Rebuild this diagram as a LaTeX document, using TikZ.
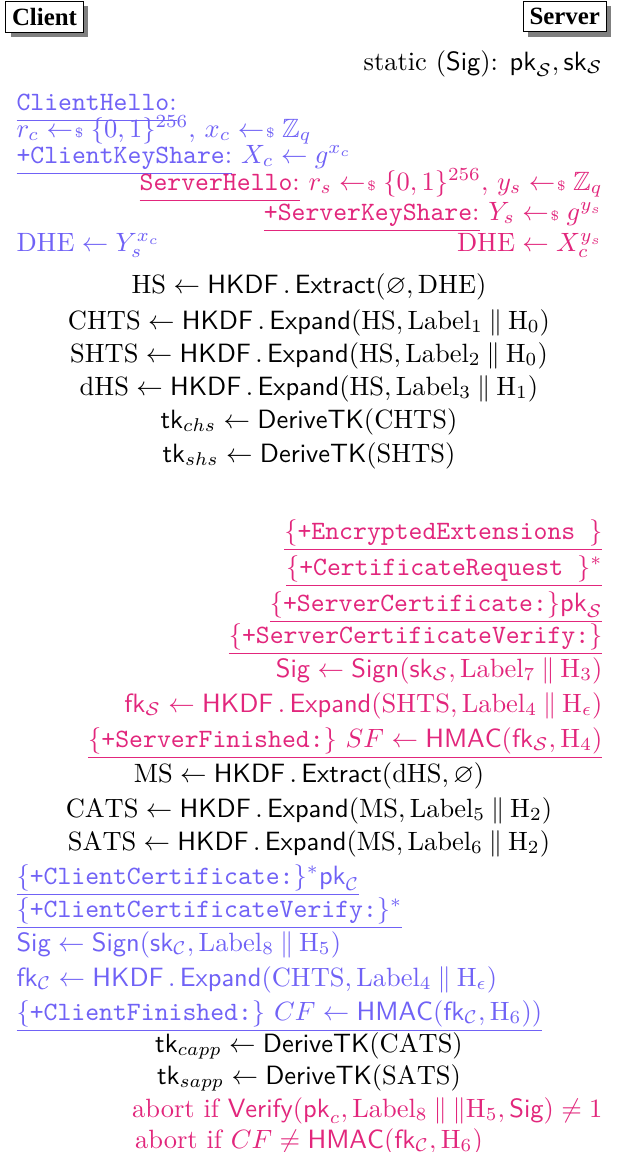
\documentclass[tikz,border=0pt]{standalone}
\usepackage{amsmath,amssymb}
\usepackage{fontspec}
\newfontfamily\partyfont{Liberation Serif}
\usetikzlibrary{shadows}
\definecolor{cblue}{RGB}{112,98,246}
\definecolor{cpink}{RGB}{226,38,124}
\newcommand{\smp}{\mathrel{\leftarrow\mkern-4mu{\scriptscriptstyle\$}}}
\newcommand{\ulw}[1]{\underline{\vphantom{\{}#1}}
\newcommand{\hk}{\mathsf{HKDF}\,.\,}
\newcommand{\lbl}[1]{\mathrm{Label}_{#1}}
\newcommand{\cat}{\mathbin{\|}}
\begin{document}
\begin{tikzpicture}[x=0.378pt,y=-0.378pt,
  every node/.style={inner sep=0pt},
  lft/.style={anchor=base west},
  rgt/.style={anchor=base east},
  ctr/.style={anchor=base},
  cli/.style={text=cblue},
  srv/.style={text=cpink},
  party/.style={draw=black, fill=white, inner xsep=2.4pt, inner ysep=2.6pt,
    font=\partyfont\bfseries\fontsize{9.4}{10}\selectfont, line width=0.5pt,
    drop shadow={shadow xshift=1.9pt, shadow yshift=-1.9pt, fill=black!50, opacity=1}}]
\fill[white] (0,0) rectangle (618,1152);
\useasboundingbox (0,0) rectangle (618,1152);
% parties
\node[party, anchor=north west] (client) at (5,0.5) {Client};
\node[party, anchor=north east] (server) at (607,0.5) {Server};
\node[rgt] (static) at (603,70) {static $(\mathsf{Sig})$: $\mathsf{pk}_{\mathcal{S}},\mathsf{sk}_{\mathcal{S}}$};
% hello
\node[lft,cli] (ch) at (16,110) {$\ulw{\texttt{ClientHello}{:}}$};
\node[lft,cli] (rc) at (16,137) {$r_c \smp \{0,1\}^{256},\, x_c \smp \mathbb{Z}_q$};
\node[lft,cli] (cks) at (16,163) {$\ulw{\texttt{+ClientKeyShare}{:}}\ X_c \leftarrow g^{x_c}$};
\node[rgt,srv] (sh) at (603,190) {$\ulw{\texttt{ServerHello}{:}}\ r_s \smp \{0,1\}^{256},\, y_s \smp \mathbb{Z}_q$};
\node[rgt,srv] (sks) at (603,220) {$\ulw{\texttt{+ServerKeyShare}{:}}\ Y_s \smp g^{y_s}$};
\node[lft,cli] (dhec) at (16,251) {$\mathrm{DHE} \leftarrow Y_s^{x_c}$};
\node[rgt,srv] (dhes) at (603,251) {$\mathrm{DHE} \leftarrow X_c^{y_s}$};
% handshake secrets
\node[ctr] (hs) at (309,293) {$\mathrm{HS} \leftarrow \hk\mathsf{Extract}(\varnothing, \mathrm{DHE})$};
\node[ctr] (chts) at (309,329) {$\mathrm{CHTS} \leftarrow \hk\mathsf{Expand}(\mathrm{HS}, \lbl{1} \cat \mathrm{H}_0)$};
\node[ctr] (shts) at (309,362) {$\mathrm{SHTS} \leftarrow \hk\mathsf{Expand}(\mathrm{HS}, \lbl{2} \cat \mathrm{H}_0)$};
\node[ctr] (dhs) at (309,395) {$\mathrm{dHS} \leftarrow \hk\mathsf{Expand}(\mathrm{HS}, \lbl{3} \cat \mathrm{H}_1)$};
\node[ctr] (tkchs) at (309,428) {$\mathsf{tk}_{chs} \leftarrow \mathsf{DeriveTK}(\mathrm{CHTS})$};
\node[ctr] (tkshs) at (309,462) {$\mathsf{tk}_{shs} \leftarrow \mathsf{DeriveTK}(\mathrm{SHTS})$};
% server flight
\node[rgt,srv] (ee) at (603,539) {$\underline{\{\texttt{+EncryptedExtensions\ }\}}$};
\node[rgt,srv] (cr) at (603,575) {$\underline{\{\texttt{+CertificateRequest\ }\}^*}$};
\node[rgt,srv] (sc) at (603,611) {$\underline{\{\texttt{+ServerCertificate:}\}\mathsf{pk}_{\mathcal{S}}}$};
\node[rgt,srv] (scv) at (603,643) {$\underline{\{\texttt{+ServerCertificateVerify:}\}}$};
\node[rgt,srv] (sigs) at (603,677) {$\mathsf{Sig} \leftarrow \mathsf{Sign}(\mathsf{sk}_{\mathcal{S}}, \lbl{7} \cat \mathrm{H}_3)$};
\node[rgt,srv] (fks) at (603,712) {$\mathsf{fk}_{\mathcal{S}} \leftarrow \hk\mathsf{Expand}(\mathrm{SHTS}, \lbl{4} \cat \mathrm{H}_\epsilon)$};
\node[rgt,srv] (sf) at (603,747) {$\underline{\{\texttt{+ServerFinished:}\}\ SF \leftarrow \mathsf{HMAC}(\mathsf{fk}_{\mathcal{S}}, \mathrm{H}_4)}$};
% master secrets
\node[ctr] (ms) at (309,782) {$\mathrm{MS} \leftarrow \hk\mathsf{Extract}(\mathrm{dHS}, \varnothing)$};
\node[ctr] (cats) at (309,817) {$\mathrm{CATS} \leftarrow \hk\mathsf{Expand}(\mathrm{MS}, \lbl{5} \cat \mathrm{H}_2)$};
\node[ctr] (sats) at (309,850) {$\mathrm{SATS} \leftarrow \hk\mathsf{Expand}(\mathrm{MS}, \lbl{6} \cat \mathrm{H}_2)$};
% client flight
\node[lft,cli] (cc) at (16,884) {$\underline{\{\texttt{+ClientCertificate:}\}^*\mathsf{pk}_{\mathcal{C}}}$};
\node[lft,cli] (ccv) at (16,917) {$\underline{\{\texttt{+ClientCertificateVerify:}\}^*}$};
\node[lft,cli] (sigc) at (16,951) {$\mathsf{Sig} \leftarrow \mathsf{Sign}(\mathsf{sk}_{\mathcal{C}}, \lbl{8} \cat \mathrm{H}_5)$};
\node[lft,cli] (fkc) at (16,986) {$\mathsf{fk}_{\mathcal{C}} \leftarrow \hk\mathsf{Expand}(\mathrm{CHTS}, \lbl{4} \cat \mathrm{H}_\epsilon)$};
\node[lft,cli] (cf) at (16,1020) {$\underline{\{\texttt{+ClientFinished:}\}\ CF \leftarrow \mathsf{HMAC}(\mathsf{fk}_{\mathcal{C}}, \mathrm{H}_6))}$};
% traffic keys
\node[ctr] (tkc) at (309,1052) {$\mathsf{tk}_{capp} \leftarrow \mathsf{DeriveTK}(\mathrm{CATS})$};
\node[ctr] (tks) at (309,1084) {$\mathsf{tk}_{sapp} \leftarrow \mathsf{DeriveTK}(\mathrm{SATS})$};
% checks
\node[rgt,srv] (ab1) at (603,1117) {abort if $\mathsf{Verify}(\mathsf{pk}_c, \lbl{8} \cat \|\mathrm{H}_5, \mathsf{Sig}) \neq 1$};
\node[ctr,srv] (ab2) at (309,1148) {abort if $CF \neq \mathsf{HMAC}(\mathsf{fk}_{\mathcal{C}}, \mathrm{H}_6)$};
\end{tikzpicture}
\end{document}
